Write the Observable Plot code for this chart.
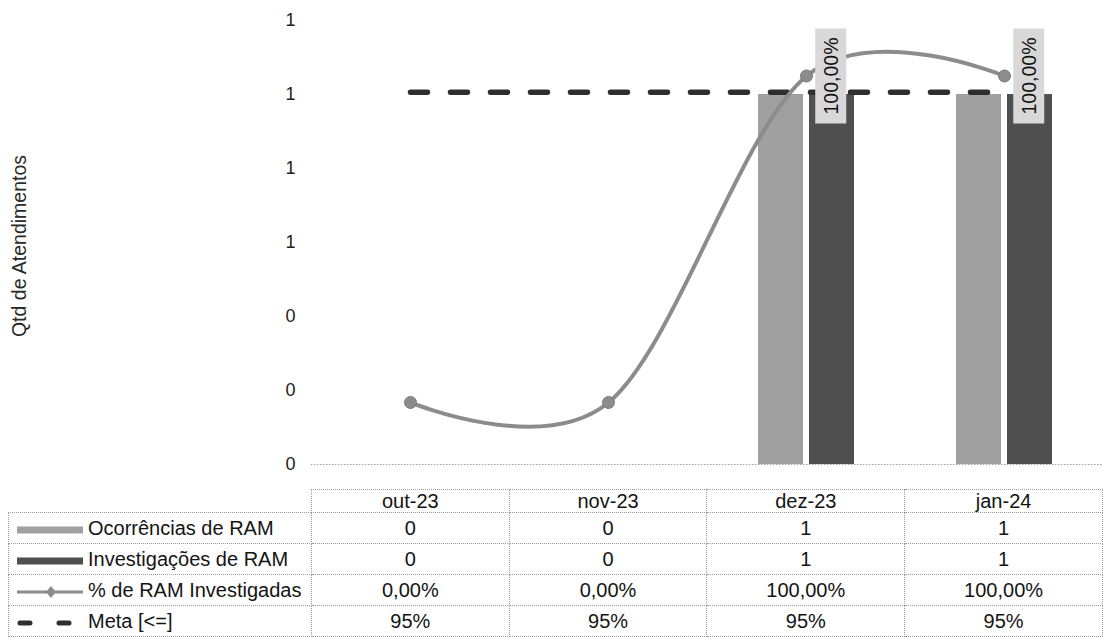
<!DOCTYPE html>
<html>
<head>
<meta charset="utf-8">
<script src="https://cdn.jsdelivr.net/npm/d3@7"></script>
<script src="https://cdn.jsdelivr.net/npm/@observablehq/plot@0.6"></script>
<style>
  body { margin: 0; background: #fff; font-family: "Liberation Sans", Arial, sans-serif; }
  #wrap { position: relative; width: 1103px; height: 637px; overflow: hidden; background: #fff; }
  #base, #over { position: absolute; left: 0; top: 0; }
  #ytitle { position: absolute; left: 19px; top: 246px; transform: translate(-50%, -50%) rotate(-90deg);
            font-size: 19.5px; color: #2a2a2a; white-space: nowrap; }
  table { position: absolute; left: 8px; top: 489px; border-collapse: collapse; table-layout: fixed;
          font-size: 20px; color: #141414; }
  td { border: 1px dotted #9c9c9c; text-align: center; padding: 0; height: 30px; white-space: nowrap; line-height: 22px; }
  tr.head td { height: 22px; }
  td.corner { border: none; }
  td.lab { text-align: left; padding-left: 7px; }
  td.lab svg { vertical-align: middle; margin-right: 2px; }
</style>
</head>
<body>
<div id="wrap">
  <div id="base"></div>
  <div id="over"></div>
  <div id="ytitle">Qtd de Atendimentos</div>
  <table id="tbl"></table>
</div>
<script>
// ---- data ----
const months = ["out-23", "nov-23", "dez-23", "jan-24"];
const seriesNames = ["Ocorrências de RAM", "Investigações de RAM", "% de RAM Investigadas", "Meta [<=]"];
const ocorrencias = [0, 0, 1, 1];
const investigacoes = [0, 0, 1, 1];
const pctInvestigadas = [0, 0, 1, 1];
const meta = [0.95, 0.95, 0.95, 0.95];
const yTicks = [0, 0.2, 0.4, 0.6, 0.8, 1, 1.2];

// ---- styling ----
const FONT = '"Liberation Sans", Arial, sans-serif';
const cLight = "#a0a0a0", cDark = "#4f4f4f", cLine = "#8c8c8c", cMeta = "#2e2e2e";
const W = 1103, H = 480, ML = 311, MR = 0, MT = 20, MB = 16;

const fmtPct = v => (v * 100).toFixed(2).replace(".", ",") + "%";
const fmtMeta = v => Math.round(v * 100) + "%";

const bars = months.flatMap((m, i) => [
  {month: m, series: seriesNames[0], value: ocorrencias[i]},
  {month: m, series: seriesNames[1], value: investigacoes[i]}
]);
const pctData = months.map((m, i) => ({month: m, pct: pctInvestigadas[i], meta: meta[i]}));

const base = Plot.plot({
  width: W, height: H, marginLeft: ML, marginRight: MR, marginTop: MT, marginBottom: MB,
  style: {fontFamily: FONT, fontSize: "18px", color: "#222", background: "transparent", overflow: "visible"},
  facet: {data: bars, x: "month"},
  fx: {domain: months, padding: 0, axis: null},
  x: {domain: seriesNames.slice(0, 2), paddingInner: 0.12, paddingOuter: 0.98, axis: null},
  y: {domain: [0, 1.2], ticks: yTicks, tickFormat: d => String(Math.round(d)), tickSize: 0, tickPadding: 16, label: null},
  color: {domain: seriesNames.slice(0, 2), range: [cLight, cDark]},
  marks: [
    Plot.barY(bars, {x: "series", y: "value", fill: "series"}),
    Plot.ruleY([0], {stroke: "#9c9c9c", strokeDasharray: "1.5,1.5"})
  ]
});
document.getElementById("base").appendChild(base);

const over = Plot.plot({
  width: W, height: H, marginLeft: ML, marginRight: MR, marginTop: MT, marginBottom: MB,
  style: {fontFamily: FONT, fontSize: "19.5px", color: "#111", background: "transparent", overflow: "visible"},
  x: {type: "point", domain: months, padding: 0.5, axis: null},
  y: {domain: [-0.19, 1.17], axis: null},
  marks: [
    Plot.line(pctData, {x: "month", y: "meta", stroke: cMeta, strokeWidth: 5.5, strokeDasharray: "17,23", strokeLinecap: "round"}),
    Plot.line(pctData, {x: "month", y: "pct", curve: "cardinal", stroke: cLine, strokeWidth: 4}),
    Plot.dot(pctData, {x: "month", y: "pct", r: 6, fill: cLine, stroke: "#7a7a7a", strokeWidth: 1}),
    Plot.text(pctData.filter(d => d.pct > 0), {x: "month", y: "pct", text: d => fmtPct(d.pct), rotate: -90, dx: 25, fill: "#111"})
  ]
});
document.getElementById("over").appendChild(over);

// label background boxes behind the rotated data labels
d3.select(over).selectAll('g[aria-label="text"] text').each(function() {
  const bb = this.getBBox();
  const padX = 9, padY = 4.5;
  const r = document.createElementNS("http://www.w3.org/2000/svg", "rect");
  r.setAttribute("x", bb.x - padX);
  r.setAttribute("y", bb.y - padY);
  r.setAttribute("width", bb.width + 2 * padX);
  r.setAttribute("height", bb.height + 2 * padY);
  r.setAttribute("fill", "#d8d8d8");
  const t = this.getAttribute("transform");
  if (t) r.setAttribute("transform", t);
  this.parentNode.insertBefore(r, this);
});

// ---- data table ----
function swatch(i) {
  if (i === 0) return `<svg width="70" height="14"><rect x="1" y="3.5" width="66" height="7" fill="${cLight}"/></svg>`;
  if (i === 1) return `<svg width="70" height="14"><rect x="1" y="3.5" width="66" height="7" fill="${cDark}"/></svg>`;
  if (i === 2) return `<svg width="70" height="14"><line x1="1" y1="7" x2="67" y2="7" stroke="${cLine}" stroke-width="3"/><path d="M35,1 L40,7 L35,13 L30,7 Z" fill="${cLine}"/></svg>`;
  return `<svg width="70" height="14"><line x1="4" y1="7" x2="65" y2="7" stroke="${cMeta}" stroke-width="5" stroke-dasharray="10,29" stroke-linecap="round"/></svg>`;
}
const rows = [
  ocorrencias.map(String),
  investigacoes.map(String),
  pctInvestigadas.map(fmtPct),
  meta.map(fmtMeta)
];
let html = `<colgroup><col style="width:303px">${months.map(() => '<col style="width:198px">').join("")}</colgroup>`;
html += `<tr class="head"><td class="corner"></td>${months.map(m => `<td>${m}</td>`).join("")}</tr>`;
rows.forEach((r, i) => {
  html += `<tr><td class="lab">${swatch(i)}${seriesNames[i]}</td>${r.map(v => `<td>${v}</td>`).join("")}</tr>`;
});
document.getElementById("tbl").innerHTML = html;
</script>
</body>
</html>
